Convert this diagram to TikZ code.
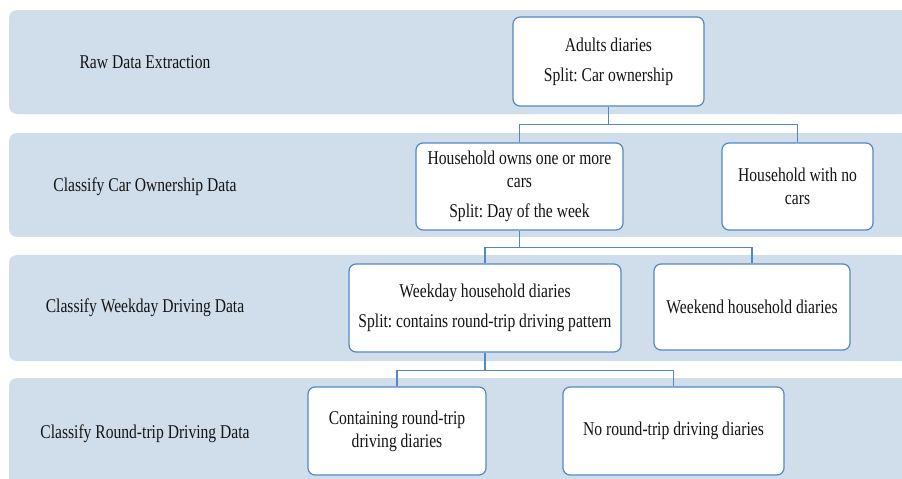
\documentclass[tikz,border=0pt]{standalone}
\usepackage{fontspec}
\setmainfont[FakeStretch=0.8]{Liberation Serif}
\frenchspacing
\definecolor{bandblue}{RGB}{208,222,236}
\definecolor{edgeblue}{RGB}{84,136,196}
\definecolor{txt}{RGB}{20,20,20}
\begin{document}
\begin{tikzpicture}[x=1pt,y=-1pt,
  band/.style={fill=bandblue,draw=none,rounded corners=8pt},
  lbl/.style={font=\fontsize{19.5}{23}\selectfont,text=txt,align=center},
  boxn/.style={draw=edgeblue,line width=1.2pt,fill=white,rounded corners=7pt,
    font=\fontsize{19.5}{23}\selectfont,text=txt,align=center,inner sep=2pt},
  conn/.style={draw=edgeblue,line width=1.2pt}]
\useasboundingbox (0,0) rectangle (902,479);
\clip (0,0) rectangle (902,479);
% bands
\path[band] (9,10) rectangle (915,114);
\path[band] (9,133) rectangle (915,237);
\path[band] (9,255) rectangle (915,361);
\path[band] (9,378) rectangle (915,495);
% band labels
\node[lbl] (l1) at (145,62.5) {Raw Data Extraction};
\node[lbl] (l2) at (145,186.5) {Classify Car Ownership Data};
\node[lbl] (l3) at (145,308) {Classify Weekday Driving Data};
\node[lbl] (l4) at (145,433.5) {Classify Round-trip Driving Data};
% boxes
\node[boxn,minimum width=191pt,minimum height=89pt] (A) at (608.5,61.5)
  {Adults diaries\\[7pt]Split: Car ownership};
\node[boxn,minimum width=207pt,minimum height=87pt] (B) at (519.5,186.5)
  {Household owns one or more\\cars\\[7pt]Split: Day of the week};
\node[boxn,minimum width=151pt,minimum height=87pt] (C) at (797.5,186.5)
  {Household with no\\cars};
\node[boxn,minimum width=272pt,minimum height=88pt] (D) at (485,308)
  {Weekday household diaries\\[7pt]Split: contains round-trip driving pattern};
\node[boxn,minimum width=196pt,minimum height=86pt] (E) at (752,307)
  {Weekend household diaries};
\node[boxn,minimum width=178pt,minimum height=88pt] (F) at (397,431)
  {Containing round-trip\\driving diaries};
\node[boxn,minimum width=221pt,minimum height=88pt] (G) at (673.5,431)
  {No round-trip driving diaries};
% connectors
\path (A.south) ++(0,18) coordinate (a1);
\draw[conn] (A.south) -- (a1);
\draw[conn] (a1) -| (B.north);
\draw[conn] (a1) -| (C.north);
\path (B.south) ++(0,17) coordinate (b1);
\draw[conn] (B.south) -- (b1);
\draw[conn] (b1) -| (D.north);
\draw[conn] (b1) -| (E.north);
\path (D.south) ++(0,18) coordinate (d1);
\draw[conn] (D.south) -- (d1);
\draw[conn] (d1) -| (F.north);
\draw[conn] (d1) -| (G.north);
\end{tikzpicture}
\end{document}
